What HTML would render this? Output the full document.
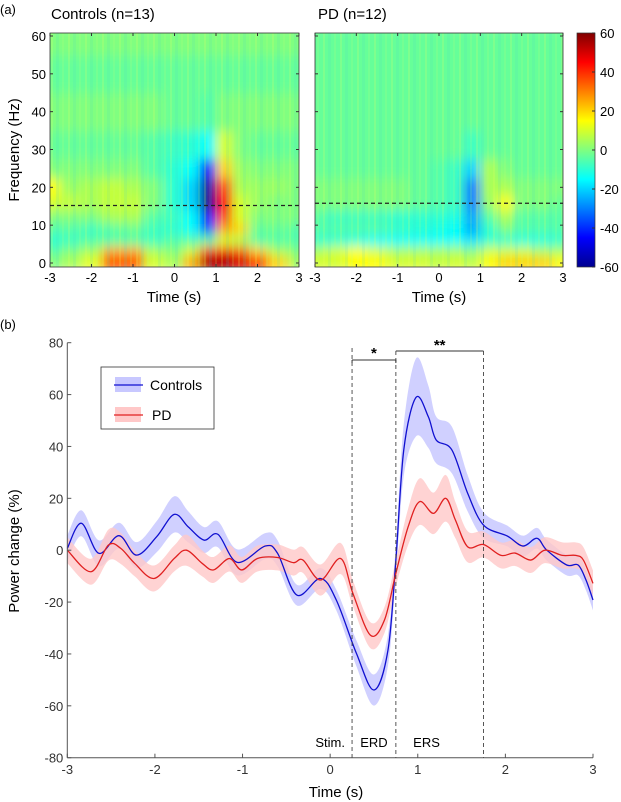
<!DOCTYPE html>
<html><head><meta charset="utf-8">
<style>
html,body{margin:0;padding:0;background:#fff;}
svg{display:block;font-family:"Liberation Sans",Arial,sans-serif;}
</style></head>
<body>
<svg id="fig" width="621" height="802" viewBox="0 0 621 802" xmlns="http://www.w3.org/2000/svg">
<defs>
<filter id="blur" x="0" y="0" width="1" height="1"><feGaussianBlur stdDeviation="5 6" edgeMode="duplicate"/></filter>
<clipPath id="clipL"><rect x="50" y="33" width="249" height="234"/></clipPath>
<clipPath id="clipR"><rect x="315" y="33" width="248" height="234"/></clipPath>
<linearGradient id="jet" x1="0" y1="1" x2="0" y2="0">
<stop offset="0" stop-color="#00008f"/><stop offset="0.125" stop-color="#0000ff"/>
<stop offset="0.375" stop-color="#00ffff"/><stop offset="0.625" stop-color="#ffff00"/>
<stop offset="0.875" stop-color="#ff0000"/><stop offset="1" stop-color="#800000"/>
</linearGradient>
<pattern id="streaks" width="17" height="234" patternUnits="userSpaceOnUse">
<rect x="0" y="0" width="2" height="234" fill="#e8ff60" opacity="0.18"/>
<rect x="5" y="0" width="3" height="234" fill="#40d0d0" opacity="0.12"/>
<rect x="11" y="0" width="2" height="234" fill="#c0ff70" opacity="0.15"/>
</pattern>
</defs>
<text x="0" y="14" font-size="13">(a)</text>
<text x="51" y="19" font-size="15">Controls (n=13)</text>
<text x="318" y="19" font-size="15">PD (n=12)</text>
<g id="hmL"></g>
<g id="hmR"></g>
<g id="cbar">
<rect x="577" y="33" width="18" height="234" fill="url(#jet)" stroke="#333" stroke-width="0.7"/>
</g>
<text transform="translate(19,150) rotate(-90)" text-anchor="middle" font-size="15">Frequency (Hz)</text>
<text x="174" y="302" text-anchor="middle" font-size="15">Time (s)</text>
<text x="439" y="302" text-anchor="middle" font-size="15">Time (s)</text>
<text x="0" y="329" font-size="13">(b)</text>
<g id="lineChart"></g>
<text transform="translate(19,551) rotate(-90)" text-anchor="middle" font-size="15">Power change (%)</text>
<text x="336" y="797" text-anchor="middle" font-size="15">Time (s)</text>
</svg>
<script>
const NS="http://www.w3.org/2000/svg";
// ---- heatmap data ----
const hmTimes=[-3,-2.5,-2,-1.5,-1,-0.5,0,0.4,0.8,1.2,1.6,2,2.5,3];
const hmFreqs=[1,3,6,9,12,16,20,25,30,40,50,60];
const ctrlGrid=[
[0,5,12,35,35,10,5,25,55,55,50,40,20,5],
[-5,0,5,25,25,5,0,10,40,45,35,20,5,0],
[-10,-8,-5,-5,-5,-8,-5,-5,-5,10,5,-5,-5,-5],
[-5,-5,-8,-5,-3,-8,-10,-15,-35,25,20,-3,-3,-5],
[0,0,0,5,5,-5,-8,-15,-45,35,10,0,0,0],
[10,8,5,8,8,0,-10,-20,-58,45,10,3,0,0],
[15,3,5,8,5,0,-10,-20,-55,35,5,3,3,0],
[0,0,0,0,0,-5,-10,-15,-45,20,3,0,0,0],
[-3,-3,-3,-3,-3,-5,-8,-10,-15,10,0,-3,-3,-3],
[0,0,0,0,0,0,-3,-3,-5,0,0,0,0,0],
[-3,-3,-3,-3,-3,-3,-3,-3,-3,-3,-3,-3,-3,-3],
[0,0,0,0,0,0,0,0,0,0,0,0,0,0]];
const pdGrid=[
[10,10,15,15,10,10,8,10,8,15,20,20,20,15],
[5,10,15,10,5,5,5,5,0,10,10,10,5,5],
[-10,-10,-12,-15,-15,-15,-15,-15,-18,-10,-10,-12,-12,-10],
[-5,-5,-5,-5,-8,-10,-12,-15,-25,-10,0,-5,-5,-5],
[-5,-8,-8,-8,-10,-10,-10,-12,-25,-5,5,-5,-5,-5],
[0,0,0,0,0,-3,-5,-8,-30,3,15,0,0,-3],
[0,0,0,0,0,-3,-5,-8,-30,5,5,0,0,0],
[-3,-3,-3,-3,-3,-3,-5,-8,-20,5,0,-3,-3,-3],
[-3,-3,-3,-3,-3,-3,-3,-3,-8,-3,-3,-3,-3,-3],
[-3,-3,-3,-3,-3,-3,-3,-3,-3,-3,-3,-3,-3,-3],
[-3,-3,-3,-3,-3,-3,-3,-3,-3,-3,-3,-3,-3,-3],
[-3,-3,-3,-3,-3,-3,-3,-3,-3,-3,-3,-3,-3,-3]];
const hmXTicks=[-3,-2,-1,0,1,2,3];
const hmYTicks=[0,10,20,30,40,50,60];
const cbTicks=[60,40,20,0,-20,-40,-60];
const dashFreq=[15.2,15.8];
// ---- line chart data ----
const ctrlT=[-3,-2.84,-2.64,-2.41,-2.21,-1.98,-1.78,-1.62,-1.44,-1.28,-1.06,-0.74,-0.6,-0.38,-0.11,0.07,0.3,0.5,0.66,0.75,0.84,0.98,1.12,1.21,1.39,1.57,1.75,2.02,2.2,2.36,2.47,2.7,2.83,2.92,3];
const ctrlV=[0.7,10.4,-1.2,5.6,-1.9,5.2,13.8,9,3.9,6.1,-4.7,1.6,-1.2,-17.3,-10.9,-19.2,-39.8,-53.9,-38.5,-3.8,38.6,58.9,51.5,42.5,38.6,21.9,9.7,5.5,1.6,4.6,0.1,-5.7,-5.7,-11.5,-19.2];
const ctrlSem=[5,5,5,5,5,6,7,6,5,5,5,5,5,4,4,4,5,6,6,6,10,15,12,9,9,7,5,4,4,4,4,4,4,4,4];
const pdT=[-3,-2.73,-2.53,-2.39,-2.23,-2.01,-1.78,-1.64,-1.46,-1.33,-1.15,-1.01,-0.83,-0.6,-0.42,-0.31,-0.11,0.12,0.26,0.46,0.62,0.75,0.89,1.02,1.18,1.32,1.43,1.57,1.75,1.95,2.11,2.29,2.45,2.65,2.8,2.89,3];
const pdV=[0,-8.3,2,0.7,-5.1,-10.9,-3.2,0,-5.1,-7.6,-3.2,-7.6,-3.2,-2.8,-4.8,-3.8,-11.5,-3.2,-16.7,-32.8,-26.9,-8.9,9,18.7,14.2,20,11.6,1.3,2.2,-2,-1.1,-3.8,0,-2,-2,-3.8,-12.8];
const pdSem=[5,5,6,6,5,5,5,6,5,5,5,5,5,5,5,5,6,6,5,5,5,5,7,9,8,9,7,6,5,5,5,5,5,5,5,5,5];
const lineXTicks=[-3,-2,-1,0,1,2,3];
const lineYTicks=[80,60,40,20,0,-20,-40,-60,-80];
const epochBounds=[0.25,0.75,1.75];
const epochLabels=["Stim.","ERD","ERS"];
const sigLabels=["*","**"];

function el(tag,attrs,parent){const e=document.createElementNS(NS,tag);for(const k in attrs)e.setAttribute(k,attrs[k]);if(parent)parent.appendChild(e);return e;}
function jet(v){let x=(v+60)/120;x=Math.max(0,Math.min(1,x));const c=t=>Math.round(255*Math.max(0,Math.min(1,1.5-Math.abs(4*x-t))));return `rgb(${c(3)},${c(2)},${c(1)})`;}

function heatmap(g,grid,x0,x1,clip,dashF){
  const y0=263,y1=36;
  const sx=t=>x0+(t+3)/6*(x1-x0);
  const sy=f=>y0+(f/60)*(y1-y0);
  const inner=el('g',{'clip-path':`url(#${clip})`},g);
  const cells=el('g',{filter:'url(#blur)'},inner);
  for(let r=0;r<hmFreqs.length;r++){
    const fLo=r===0?-2:(hmFreqs[r-1]+hmFreqs[r])/2;
    const fHi=r===hmFreqs.length-1?63:(hmFreqs[r]+hmFreqs[r+1])/2;
    for(let c=0;c<hmTimes.length;c++){
      const tLo=c===0?-3.3:(hmTimes[c-1]+hmTimes[c])/2;
      const tHi=c===hmTimes.length-1?3.3:(hmTimes[c]+hmTimes[c+1])/2;
      const rc=el('rect',{x:sx(tLo),y:sy(fHi),width:sx(tHi)-sx(tLo)+0.5,height:sy(fLo)-sy(fHi)+0.5,fill:jet(grid[r][c])},cells);
      
      
    }
  }
  el('rect',{x:x0,y:33,width:x1-x0,height:234,fill:'url(#streaks)'},inner);
  el('rect',{x:x0,y:33,width:x1-x0,height:234,fill:'none',stroke:'#333','stroke-width':0.8},g);
  const dl=el('line',{x1:x0,x2:x1,y1:sy(dashF),y2:sy(dashF),stroke:'#222','stroke-width':1.2,'stroke-dasharray':'4,3'},g);
  
  
  hmXTicks.forEach(t=>{
    el('line',{x1:sx(t),x2:sx(t),y1:267,y2:264,stroke:'#333'},g);
    el('line',{x1:sx(t),x2:sx(t),y1:33,y2:36,stroke:'#333'},g);
    const tx=el('text',{x:sx(t),y:282,'text-anchor':'middle','font-size':13},g);tx.textContent=t;
    
    
  });
  hmYTicks.forEach(f=>{
    el('line',{x1:x0,x2:x0+3,y1:sy(f),y2:sy(f),stroke:'#333'},g);
    el('line',{x1:x1,x2:x1-3,y1:sy(f),y2:sy(f),stroke:'#333'},g);
  });
}
heatmap(document.getElementById('hmL'),ctrlGrid,50,299,'clipL',dashFreq[0]);
heatmap(document.getElementById('hmR'),pdGrid,315,563,'clipR',dashFreq[1]);
const svg=document.getElementById('fig');
hmYTicks.forEach(f=>{
  const t=el('text',{x:46,y:263+(f/60)*(36-263)+5,'text-anchor':'end','font-size':13},svg);t.textContent=f;
  
  
});
const cb=document.getElementById('cbar');
cbTicks.forEach(v=>{
  const y=267-(v+60)/120*234;
  el('line',{x1:592,x2:595,y1:y,y2:y,stroke:'#333'},cb);
  const t=el('text',{x:600,y:y+5,'font-size':13},cb);t.textContent=v===0?'0':v;
  
  
});

// ---- line chart ----
const lc=document.getElementById('lineChart');
const X0=67.3,X1=593,Y0=757.7,Y1=342.7;
const px=t=>X0+(t+3)/6*(X1-X0);
const py=v=>Y0+(v+80)/160*(Y1-Y0);
function crPts(ts,vs){
  const p=ts.map((t,i)=>[px(t),py(vs[i])]);
  let d=`M${p[0][0]},${p[0][1]}`;
  for(let i=0;i<p.length-1;i++){
    const a=p[Math.max(0,i-1)],b=p[i],c=p[i+1],e=p[Math.min(p.length-1,i+2)];
    const c1=[b[0]+(c[0]-a[0])/6,b[1]+(c[1]-a[1])/6],c2=[c[0]-(e[0]-b[0])/6,c[1]-(e[1]-b[1])/6];
    d+=`C${c1[0]},${c1[1]} ${c2[0]},${c2[1]} ${c[0]},${c[1]}`;
  }
  return d;
}
function bandPath(ts,vs,ss){
  const up=crPts(ts,vs.map((v,i)=>v+ss[i]));
  const rt=ts.slice().reverse(),rv=vs.map((v,i)=>v-ss[i]).reverse();
  const lo=crPts(rt,rv).replace(/^M/,'L');
  return up+lo+'Z';
}
const b1=el('path',{d:bandPath(ctrlT,ctrlV,ctrlSem),fill:'#c8c8ff',opacity:0.85},lc);


const b2=el('path',{d:bandPath(pdT,pdV,pdSem),fill:'#ffc8c8',opacity:0.8},lc);


const l1=el('path',{d:crPts(ctrlT,ctrlV),fill:'none',stroke:'#1010d0','stroke-width':1.3},lc);


const l2=el('path',{d:crPts(pdT,pdV),fill:'none',stroke:'#e02020','stroke-width':1.3},lc);


el('line',{x1:X0,x2:X0,y1:Y1,y2:Y0,stroke:'#555'},lc);
el('line',{x1:X0,x2:X1,y1:Y0,y2:Y0,stroke:'#555'},lc);
lineYTicks.forEach(v=>{
  el('line',{x1:X0,x2:X0+4,y1:py(v),y2:py(v),stroke:'#555'},lc);
  const t=el('text',{x:X0-4,y:py(v)+5,'text-anchor':'end','font-size':13,fill:'#333'},lc);t.textContent=v;
  
  
});
lineXTicks.forEach(v=>{
  el('line',{x1:px(v),x2:px(v),y1:Y0,y2:Y0-4,stroke:'#555'},lc);
  const t=el('text',{x:px(v),y:774,'text-anchor':'middle','font-size':13,fill:'#333'},lc);t.textContent=v;
  
  
});
function y0b(b){return b===epochBounds[0]?348:351;}
epochBounds.forEach(b=>{
  const l=el('line',{x1:px(b),x2:px(b),y1:y0b(b),y2:Y0,stroke:'#444','stroke-width':0.9,'stroke-dasharray':'4,3'},lc);
  
  
});
const sb1=el('path',{d:`M${px(epochBounds[0])},360 H${px(epochBounds[1])} V363 M${px(epochBounds[0])},360 V363`,stroke:'#333',fill:'none'},lc);


const sb2=el('path',{d:`M${px(epochBounds[1])},351 H${px(epochBounds[2])}`,stroke:'#333',fill:'none'},lc);


[[0,(epochBounds[0]+epochBounds[1])/2,358],[1,(epochBounds[1]+epochBounds[2])/2,350]].forEach(([i,t,y])=>{
  const s=el('text',{x:px(t),y:y,'text-anchor':'middle','font-size':15,'font-weight':'bold'},lc);s.textContent=sigLabels[i];
  
  
});
[[epochLabels[0],px(0),'middle'],[epochLabels[1],px((epochBounds[0]+epochBounds[1])/2),'middle'],[epochLabels[2],px(1.1),'middle']].forEach(([s,x,a])=>{
  const t=el('text',{x:x,y:747,'text-anchor':a,'font-size':13},lc);t.textContent=s;
  
  
});
const lg=el('g',{},lc);


el('rect',{x:101,y:367,width:113,height:62,fill:'#fff',stroke:'#333','stroke-width':0.8},lg);
el('rect',{x:115,y:377,width:26,height:15,fill:'#c8c8ff'},lg);
el('line',{x1:114,x2:143,y1:385,y2:385,stroke:'#1010d0','stroke-width':1.3},lg);
const lt1=el('text',{x:150,y:390,'font-size':14},lg);lt1.textContent='Controls';


el('rect',{x:115,y:407,width:26,height:15,fill:'#ffc8c8'},lg);
el('line',{x1:114,x2:143,y1:415,y2:415,stroke:'#e02020','stroke-width':1.3},lg);
const lt2=el('text',{x:152,y:420,'font-size':14},lg);lt2.textContent='PD';


</script>
</body></html>
